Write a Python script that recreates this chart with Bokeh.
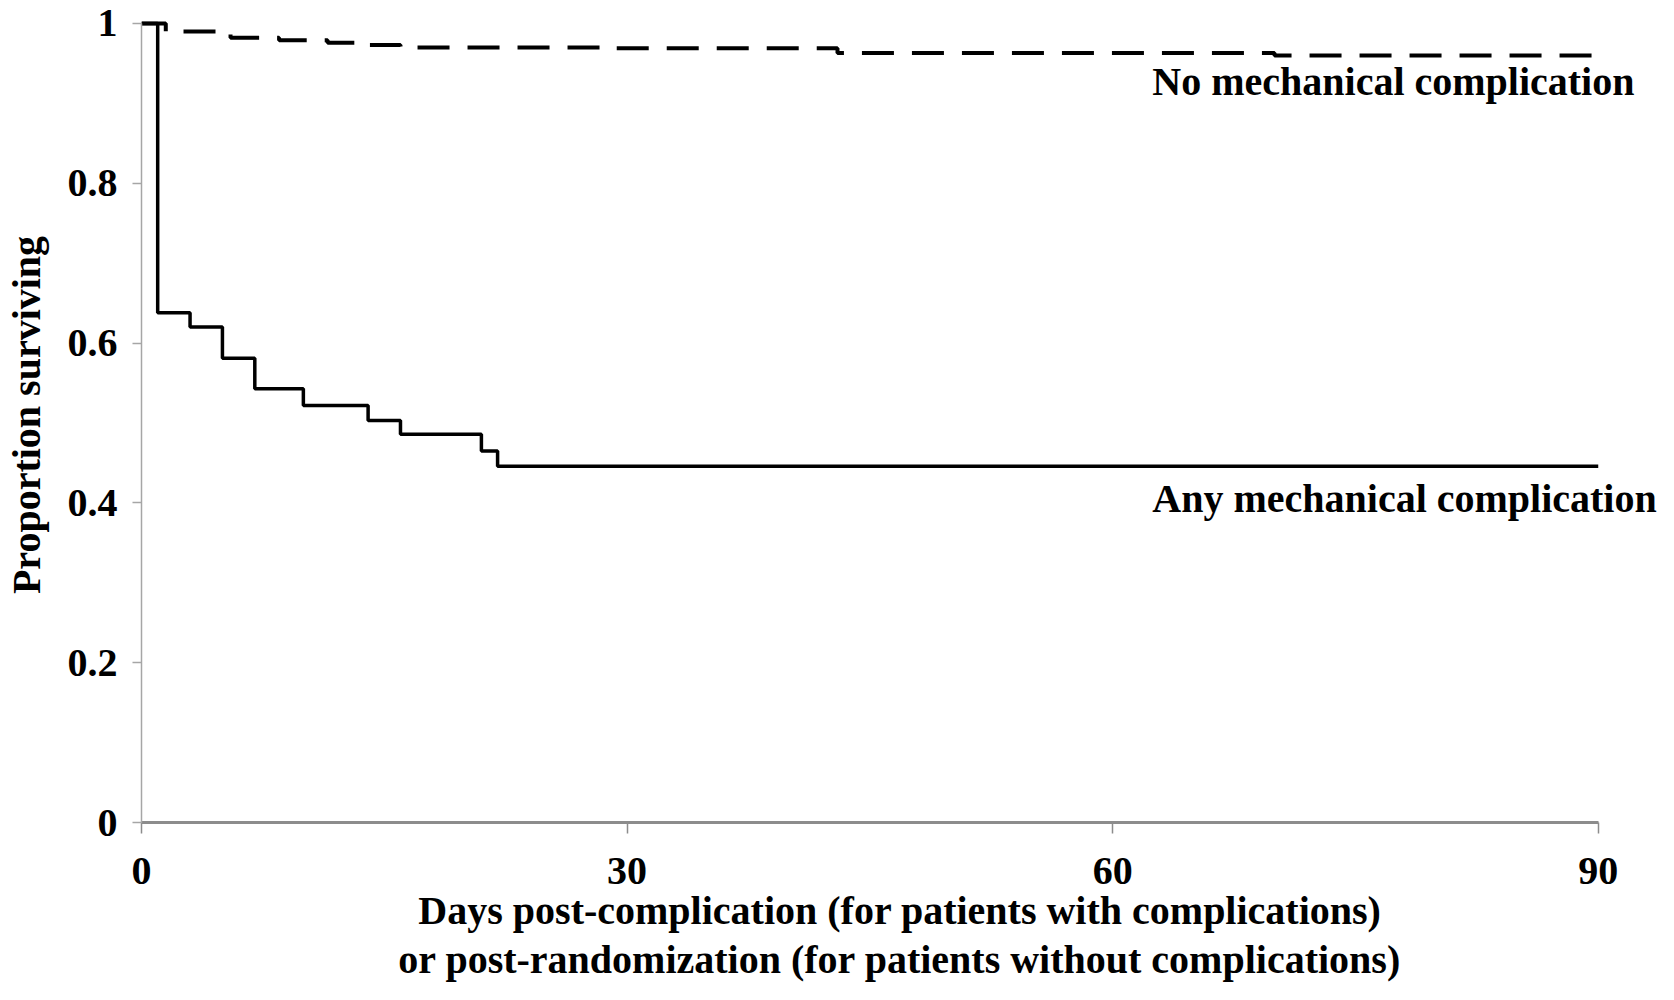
from bokeh.plotting import figure
from bokeh.models import ColumnDataSource, FixedTicker, Range1d
from bokeh.core.properties import value
from bokeh.embed import file_html
from bokeh.resources import INLINE

FONT = "Liberation Serif"

# ---- data ----
any_days = [0, 1, 3, 5, 7, 10, 14, 16, 21, 22, 90]
any_surv = [1.0, 0.638, 0.620, 0.581, 0.543, 0.522, 0.503, 0.486, 0.465, 0.446, 0.446]

none_days = [0, 1.5, 5.5, 8.5, 11.5, 14, 16, 29, 43, 70, 90]
none_surv = [1.0, 0.990, 0.982, 0.979, 0.976, 0.973, 0.970, 0.969, 0.963, 0.960, 0.960]

series_names = ["No mechanical complication", "Any mechanical complication"]
series_label_x = [62.45, 62.45]
series_label_y = [0.927, 0.405]

x_ticks = [0, 30, 60, 90]
y_ticks = [0, 0.2, 0.4, 0.6, 0.8, 1]
y_tick_labels = ["0", "0.2", "0.4", "0.6", "0.8", "1"]

y_title = "Proportion surviving"
x_title = ("Days post-complication (for patients with complications)\n"
           "or post-randomization (for patients without complications)")

# ---- figure ----
W, H = 1658, 984
LEFT, RIGHT, TOP = 135, 0, 7
FRAME_H = 818
BOTTOM = H - TOP - FRAME_H
frame_w = W - LEFT - RIGHT
x_end = 90 * frame_w / 1462.5

p = figure(width=W, height=H, output_backend="svg", toolbar_location=None,
           x_range=Range1d(0, x_end), y_range=Range1d(0, 1.02),
           min_border_left=LEFT, min_border_right=RIGHT,
           min_border_top=TOP, min_border_bottom=BOTTOM)
p.outline_line_color = None
p.grid.visible = False
p.background_fill_color = "white"
p.border_fill_color = "white"

# curves
p.step(x=any_days, y=any_surv, mode="after", line_color="black", line_width=3.5)
p.step(x=none_days, y=none_surv, mode="after", line_color="black", line_width=4,
       line_dash="32 18")

src = ColumnDataSource(dict(x=series_label_x, y=series_label_y, t=series_names))
p.text(x="x", y="y", text="t", source=src, text_font=value(FONT),
       text_font_style="bold", text_font_size="40px", text_color="black",
       text_align="left", text_baseline="alphabetic")

# x axis
xa = p.xaxis[0]
xa.ticker = FixedTicker(ticks=x_ticks)
xa.bounds = (0, 90)
xa.axis_line_color = "#8c8c8c"
xa.axis_line_width = 3
xa.major_tick_line_color = "#8c8c8c"
xa.major_tick_line_width = 1.5
xa.major_tick_out = 11
xa.major_tick_in = 0
xa.minor_tick_line_color = None
xa.major_label_standoff = 24
xa.major_label_text_font = FONT
xa.major_label_text_font_style = "bold"
xa.major_label_text_font_size = "40px"
xa.major_label_text_color = "black"
xa.axis_label = x_title
xa.axis_label_standoff = 1
xa.axis_label_text_font = FONT
xa.axis_label_text_font_style = "bold"
xa.axis_label_text_font_size = "40px"
xa.axis_label_text_line_height = 1.09
xa.axis_label_text_color = "black"

# y axis
ya = p.yaxis[0]
ya.ticker = FixedTicker(ticks=y_ticks)
ya.major_label_overrides = dict(zip(y_ticks, y_tick_labels))
ya.bounds = (0, 1)
ya.axis_line_color = "#a6a6a6"
ya.axis_line_width = 1.5
ya.major_tick_line_color = "#a6a6a6"
ya.major_tick_line_width = 1.5
ya.major_tick_out = 9
ya.major_tick_in = 0
ya.minor_tick_line_color = None
ya.major_label_standoff = 15
ya.major_label_text_font = FONT
ya.major_label_text_font_style = "bold"
ya.major_label_text_font_size = "40px"
ya.major_label_text_color = "black"
ya.axis_label = y_title
ya.axis_label_standoff = 16
ya.axis_label_text_font = FONT
ya.axis_label_text_font_style = "bold"
ya.axis_label_text_font_size = "40px"
ya.axis_label_text_color = "black"

open("out.html", "w").write(file_html(p, INLINE))
